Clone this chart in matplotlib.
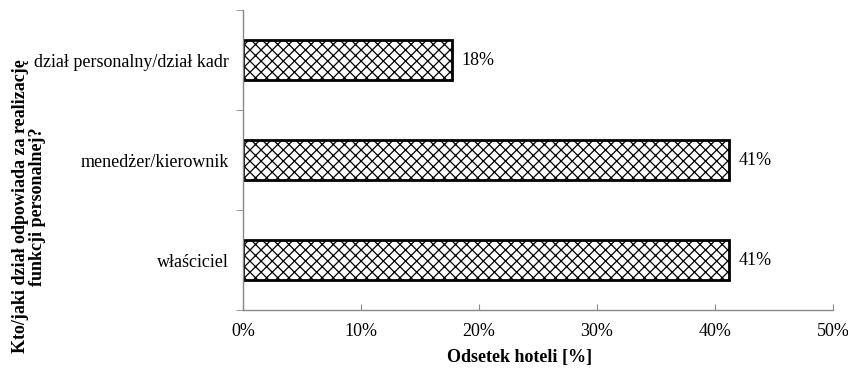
import matplotlib.pyplot as plt
import numpy as np

# data
categories = ["właściciel", "menedżer/kierownik", "dział personalny/dział kadr"]
values = [41.2, 41.2, 17.7]
labels = ["41%", "41%", "18%"]
xticks = [0, 10, 20, 30, 40, 50]

plt.rcParams['font.family'] = ['Liberation Serif', 'DejaVu Serif']
plt.rcParams['hatch.color'] = '#303030'
plt.rcParams['hatch.linewidth'] = 0.9

fig = plt.figure(figsize=(8.48, 3.75), dpi=100)
ax = fig.add_axes([0.2866, 0.1733, 0.6957, 0.8])

y = np.arange(len(categories))
ax.barh(y, values, height=0.4, color='white', edgecolor='black',
        linewidth=2, hatch='xxx')

for yi, v, lab in zip(y, values, labels):
    ax.text(v + 0.8, yi, lab, va='center', ha='left', fontsize=13)

ax.set_xlim(0, 50)
ax.set_ylim(-0.5, 2.5)
ax.set_xticks(xticks)
ax.set_xticklabels([f"{t}%" for t in xticks], fontsize=13)

# category labels, ticks between categories
ax.set_yticks(y)
ax.set_yticklabels(categories, fontsize=13)
ax.tick_params(axis='y', length=0, pad=10)
ax.set_yticks([-0.5, 0.5, 1.5, 2.5], minor=True)
ax.tick_params(axis='y', which='minor', length=5, color='#888888', direction='out')
ax.tick_params(axis='x', length=4, color='#888888', direction='in', pad=9)

for s in ['top', 'right']:
    ax.spines[s].set_visible(False)
for s in ['left', 'bottom']:
    ax.spines[s].set_color('#888888')
    ax.spines[s].set_linewidth(1)

ax.set_xlabel("Odsetek hoteli [%]", fontsize=13, fontweight='bold')
ax.xaxis.set_label_coords(0.468, -0.13)
fig.text(0.034, 0.45, "Kto/jaki dział odpowiada za realizację\nfunkcji personalnej?",
         rotation=90, ha='center', va='center', fontsize=13, fontweight='bold',
         multialignment='center', linespacing=1.0)

fig.savefig("out.png", dpi=100)
